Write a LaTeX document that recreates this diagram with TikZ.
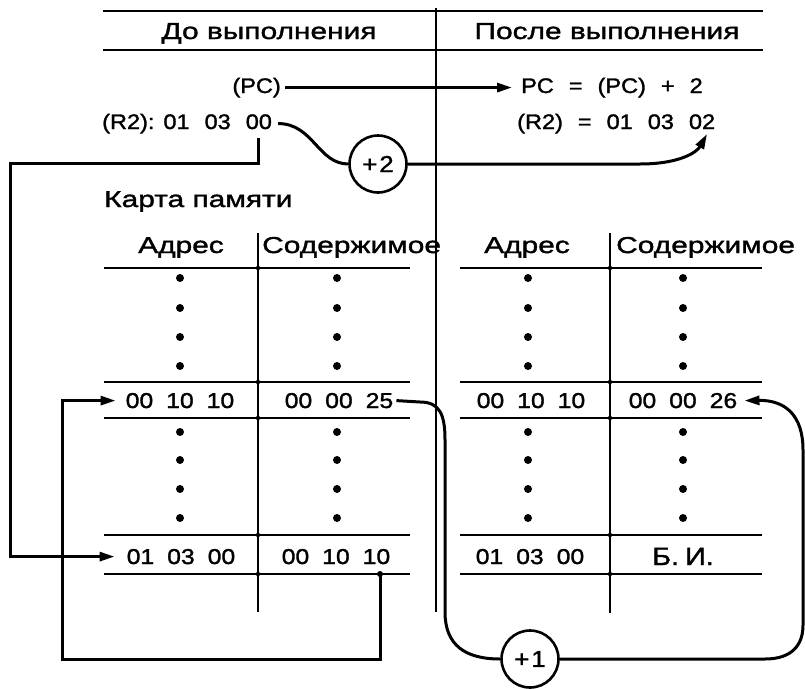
\documentclass[tikz,border=0pt]{standalone}
\usepackage{fontspec}
\setmainfont{Liberation Sans}
\newfontfamily\hdf[FakeStretch=1.3,FakeBold=1.5]{Liberation Sans}
\newfontfamily\tbf[FakeStretch=1.15,FakeBold=1.5]{Liberation Sans}
\newfontfamily\rgf[FakeStretch=1.12,FakeBold=1.5]{Liberation Sans}
\usetikzlibrary{arrows.meta}
\newcommand\hd{\hdf\fontsize{23}{27}\selectfont}
\newcommand\tb{\tbf\fontsize{21.5}{25}\selectfont}
\newcommand\rg{\rgf\fontsize{21}{25}\selectfont}
\newcommand\opf{\rgf\fontsize{23}{27}\selectfont}
\newcommand\ts{\hspace{13pt}}
\newcommand\rs{\hspace{15pt}}
\begin{document}
\begin{tikzpicture}[x=1pt,y=-1pt,
  heavy/.style={line width=2.6pt},
  rule/.style={line width=2pt},
  conn/.style={line width=3pt, line join=miter},
  tip/.style={-{Triangle[length=15pt,width=9pt]}},
  hdtxt/.style={inner sep=0pt, font=\hd, anchor=base},
  tbtxt/.style={inner sep=0pt, font=\tb, anchor=base},
  rgtxt/.style={inner sep=0pt, font=\rg, anchor=base west},
  op/.style={circle, draw, line width=2.6pt, minimum size=57pt, inner sep=0pt, font=\opf},
]
\useasboundingbox (0,0) rectangle (805,688);

% header rules and divider
\draw[heavy] (103,11) -- (763,11);
\draw[heavy] (103,50) -- (763,50);
\draw[rule] (436,8) -- (436,612);

% headers
\node[hdtxt] (hBefore) at (269,39) {До выполнения};
\node[hdtxt] (hAfter) at (607,39) {После выполнения};
\node[hdtxt, anchor=base west] (map) at (104,207) {Карта памяти};
\node[hdtxt] (adrL) at (181,253) {Адрес};
\node[hdtxt, anchor=base west] (conL) at (262,253) {Содержимое};
\node[hdtxt] (adrR) at (527,253) {Адрес};
\node[hdtxt, anchor=base west] (conR) at (616,253) {Содержимое};

% registers
\node[rgtxt, anchor=base east] (pcL) at (281,93) {(PC)};
\node[rgtxt] (pcR) at (521,93) {PC\rs=\rs(PC)\rs+\rs2};
\node[rgtxt] (r2L) at (102,129) {(R2):\hspace{9pt}01\rs03\rs00};
\node[rgtxt] (r2R) at (517,129) {(R2)\rs=\rs01\rs03\rs02};

% tables
\foreach \y in {268,382,418,535,574} {
  \draw[rule] (104,\y) -- (410,\y);
  \draw[rule] (460,\y) -- (762,\y);
  \fill (258,\y) circle[radius=2.2];
  \fill (610,\y) circle[radius=2.2];
}
\draw[rule] (258,233) -- (258,612);
\draw[rule] (610,233) -- (610,613);
\foreach \y in {278,308,337,366,432,460,489,518}
  \foreach \x in {180,337,528,683}
    \fill (\x,\y) circle[radius=4];

\node[tbtxt] (la1) at (180,408) {00\ts10\ts10};
\node[tbtxt] (lc1) at (339,408) {00\ts00\ts25};
\node[tbtxt] (la2) at (181,564) {01\ts03\ts00};
\node[tbtxt] (lc2) at (336,564) {00\ts10\ts10};
\node[tbtxt] (ra1) at (531,408) {00\ts10\ts10};
\node[tbtxt] (rc1) at (683,408) {00\ts00\ts26};
\node[tbtxt] (ra2) at (530,564) {01\ts03\ts00};
\node[tbtxt, font=\tbf\fontsize{25}{29}\selectfont] (rc2) at (683,565) {Б.\hspace{6pt}И.};

% operators
\node[op] (p2) at (378,164) {+\hspace{2pt}2};
\node[op] (p1) at (530,659) {+\hspace{2pt}1};

% connectors
\draw[conn,tip] ([xshift=4pt]pcL.east) -- ([xshift=-9pt]pcR.west);
\draw[conn] ([xshift=6pt]r2L.east) .. controls +(35,0) and +(-30,0) .. (p2.west);
\coordinate (t02) at (707,134);
\draw[conn,tip] (p2.east) -- (640,164) .. controls (680,164) and (697,152) .. (t02);

\coordinate (r2d) at (258,138);
\draw[conn,tip] (r2d) |- (10,163) |- ([xshift=-12pt]la2.west);

\coordinate (c10) at (380,574);
\fill (c10) circle[radius=3];
\draw[conn,tip] (c10) |- (62,659) |- ([xshift=-10pt]la1.west);

\draw[conn] ([xshift=3pt]lc1.east) -- (420,402) .. controls (440,402) and (445,415) .. (445,440)
  -- (445,612) .. controls (445,645) and (465,659) .. (p1.west);
\draw[conn,tip] (p1.east) -- (765,659) .. controls (792,659) and (803,645) .. (803,625)
  -- (803,450) .. controls (803,415) and (785,400) .. ([xshift=7pt]rc1.east);
\end{tikzpicture}
\end{document}
